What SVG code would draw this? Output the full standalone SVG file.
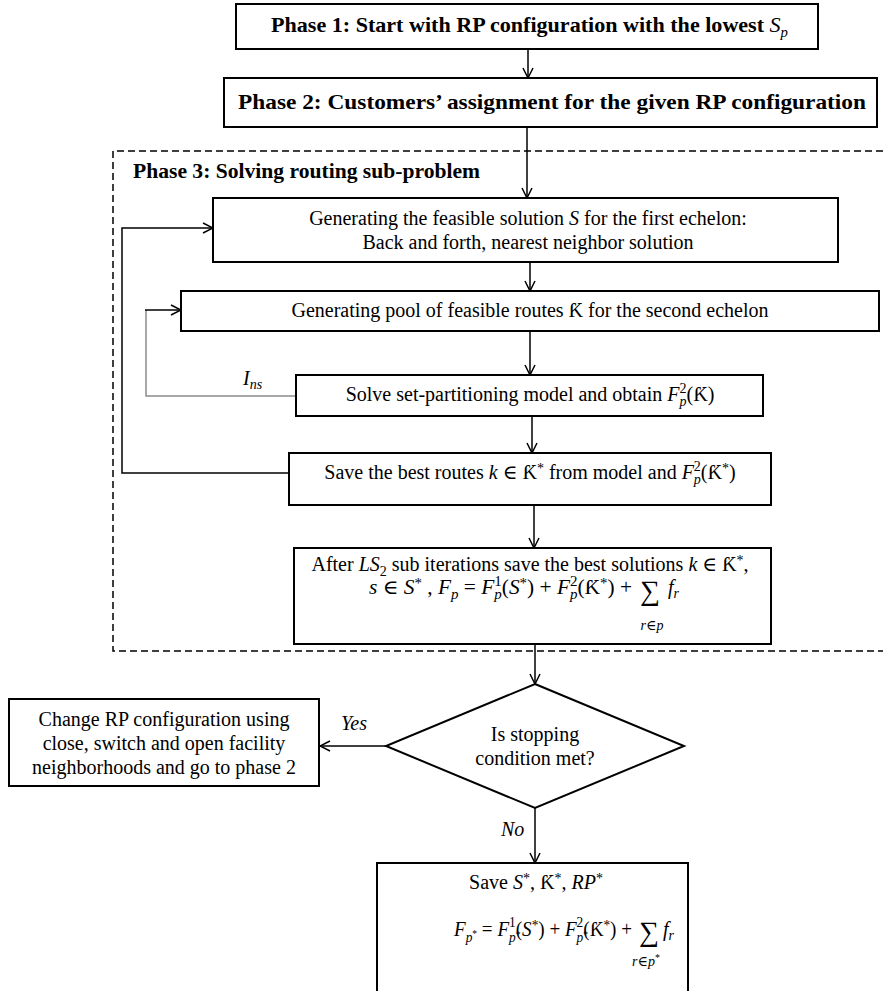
<svg xmlns="http://www.w3.org/2000/svg" width="883" height="991" viewBox="0 0 883 991">
<defs>
<style>
.box{fill:#fff;stroke:#000;stroke-width:2}
.t{font-family:"Liberation Serif","Times New Roman","DejaVu Serif",serif;font-size:20px;fill:#000}
.h{font-weight:bold;font-size:21px}
.i{font-style:italic}
.n{font-weight:normal}
.s{font-size:14px}
.x{font-size:10px}
.sig{font-size:28px}
.m{text-anchor:middle}
.c{fill:none;stroke:#000;stroke-width:1.5}
.g{fill:none;stroke:#8c8c8c;stroke-width:1.5}
.d{fill:none;stroke:#000;stroke-width:1.5;stroke-dasharray:7 4}
</style>
<marker id="ah" viewBox="0 0 12 12" refX="11" refY="6" markerWidth="12" markerHeight="12" markerUnits="userSpaceOnUse" orient="auto"><path d="M1,1 L11,6 L1,11" fill="none" stroke="#000" stroke-width="1.5"/></marker>
</defs>
<rect width="883" height="991" fill="#fff"/>
<g id="phase3-frame">
<path class="d" d="M883,151 H113 V651 H883"/>
<text class="t h" x="133" y="178" textLength="347" lengthAdjust="spacingAndGlyphs">Phase 3: Solving routing sub-problem</text>
</g>
<g id="connectors">
<path class="c" d="M528,49 V78" marker-end="url(#ah)"/>
<path class="c" d="M527,127 V198" marker-end="url(#ah)"/>
<path class="c" d="M530,262 V291" marker-end="url(#ah)"/>
<path class="c" d="M530,331 V375" marker-end="url(#ah)"/>
<path class="c" d="M532,416 V453" marker-end="url(#ah)"/>
<path class="c" d="M534,505 V548" marker-end="url(#ah)"/>
<path class="c" d="M535,644 V684" marker-end="url(#ah)"/>
<path class="c" d="M386,746 H320" marker-end="url(#ah)"/>
<path class="c" d="M535,808 V863" marker-end="url(#ah)"/>
<path class="c" d="M289,473 H122 V228 H213" marker-end="url(#ah)"/>
<path class="g" d="M296,396 H146 V310"/>
<path class="c" d="M145,310 H181" marker-end="url(#ah)"/>
<text class="t i" x="243" y="385">I<tspan class="s" dy="4">ns</tspan></text>
<text class="t i" x="341" y="730">Yes</text>
<text class="t i" x="501" y="836">No</text>
</g>
<g id="phase1">
<rect class="box" x="236" y="4" width="582" height="45"/>
<text class="t h" x="271" y="32" textLength="517" lengthAdjust="spacingAndGlyphs">Phase 1: Start with RP configuration with the lowest <tspan class="i n">S</tspan><tspan class="i n s" dy="5">p</tspan></text>
</g>
<g id="phase2">
<rect class="box" x="224" y="78" width="653" height="49"/>
<text class="t h" x="238" y="109" textLength="628" lengthAdjust="spacingAndGlyphs">Phase 2: Customers’ assignment for the given RP configuration</text>
</g>
<g id="first-echelon">
<rect class="box" x="213" y="198" width="625" height="64"/>
<text class="t m" x="528" y="225">Generating the feasible solution <tspan class="i">S</tspan> for the first echelon:</text>
<text class="t m" x="528" y="249">Back and forth, nearest neighbor solution</text>
</g>
<g id="route-pool">
<rect class="box" x="181" y="291" width="698" height="40"/>
<text class="t m" x="530" y="317">Generating pool of feasible routes Ƙ for the second echelon</text>
</g>
<g id="set-partitioning">
<rect class="box" x="296" y="375" width="467" height="41"/>
<text class="t m" x="530" y="401">Solve set-partitioning model and obtain <tspan class="i">F</tspan><tspan class="i s" dy="5">p</tspan><tspan class="s" dx="-7" dy="-13">2</tspan><tspan dy="8">(Ƙ)</tspan></text>
</g>
<g id="save-routes">
<rect class="box" x="289" y="453" width="482" height="52"/>
<text class="t m" x="530" y="479">Save the best routes <tspan class="i">k</tspan> ∈ Ƙ<tspan class="s" dy="-6">*</tspan><tspan dy="6"> from model and </tspan><tspan class="i">F</tspan><tspan class="i s" dy="5">p</tspan><tspan class="s" dx="-7" dy="-13">2</tspan><tspan dy="8">(Ƙ</tspan><tspan class="s" dy="-6">*</tspan><tspan dy="6">)</tspan></text>
</g>
<g id="after-ls2">
<rect class="box" x="294" y="548" width="477" height="96"/>
<text class="t m" x="530" y="571">After <tspan class="i">LS</tspan><tspan class="s" dy="5">2</tspan><tspan dy="-5"> sub iterations save the best solutions </tspan><tspan class="i">k</tspan> ∈ Ƙ<tspan class="s" dy="-6">*</tspan><tspan dy="6">,</tspan></text>
<text class="t" x="369" y="594" textLength="263" lengthAdjust="spacingAndGlyphs"><tspan class="i">s</tspan> ∈ <tspan class="i">S</tspan><tspan class="s" dy="-6">*</tspan><tspan dy="6"> , </tspan><tspan class="i">F</tspan><tspan class="i s" dy="5">p</tspan><tspan dy="-5"> = </tspan><tspan class="i">F</tspan><tspan class="i s" dy="5">p</tspan><tspan class="s" dx="-7" dy="-13">1</tspan><tspan dy="8">(</tspan><tspan class="i">S</tspan><tspan class="s" dy="-6">*</tspan><tspan dy="6">) + </tspan><tspan class="i">F</tspan><tspan class="i s" dy="5">p</tspan><tspan class="s" dx="-7" dy="-13">2</tspan><tspan dy="8">(Ƙ</tspan><tspan class="s" dy="-6">*</tspan><tspan dy="6">) +</tspan></text>
<text class="t sig m" x="650" y="600">∑</text>
<text class="t i" x="668" y="594">f<tspan class="s" dy="4">r</tspan></text>
<text class="t s m" x="652" y="630"><tspan class="i">r</tspan>∈<tspan class="i">p</tspan></text>
</g>
<g id="stop-decision">
<path class="box" d="M535,684 L684,746 L535,808 L386,746 Z"/>
<text class="t m" x="535" y="741">Is stopping</text>
<text class="t m" x="535" y="765">condition met?</text>
</g>
<g id="change-rp">
<rect class="box" x="9" y="699" width="310" height="87"/>
<text class="t m" x="164" y="726">Change RP configuration using</text>
<text class="t m" x="164" y="750">close, switch and open facility</text>
<text class="t m" x="164" y="774">neighborhoods and go to phase 2</text>
</g>
<g id="final-save">
<rect class="box" x="377" y="863" width="311" height="140"/>
<text class="t m" x="536" y="889">Save <tspan class="i">S</tspan><tspan class="s" dy="-6">*</tspan><tspan dy="6">, Ƙ</tspan><tspan class="s" dy="-6">*</tspan><tspan dy="6">, </tspan><tspan class="i">RP</tspan><tspan class="s" dy="-6">*</tspan></text>
<text class="t" x="454" y="936" textLength="178" lengthAdjust="spacingAndGlyphs"><tspan class="i">F</tspan><tspan class="i s" dy="6">p</tspan><tspan class="x" dy="-5">*</tspan><tspan dy="-1"> = </tspan><tspan class="i">F</tspan><tspan class="i s" dy="6">p</tspan><tspan class="x" dy="-4">*</tspan><tspan class="s" dx="-12" dy="-11">1</tspan><tspan dy="9">(</tspan><tspan class="i">S</tspan><tspan class="s" dy="-6">*</tspan><tspan dy="6">) + </tspan><tspan class="i">F</tspan><tspan class="i s" dy="6">p</tspan><tspan class="x" dy="-4">*</tspan><tspan class="s" dx="-12" dy="-11">2</tspan><tspan dy="9">(Ƙ</tspan><tspan class="s" dy="-6">*</tspan><tspan dy="6">) +</tspan></text>
<text class="t sig m" x="649" y="941">∑</text>
<text class="t i" x="663" y="936">f<tspan class="s" dy="4">r</tspan></text>
<text class="t s m" x="646" y="966"><tspan class="i">r</tspan>∈<tspan class="i">p</tspan><tspan class="x" dy="-5">*</tspan></text>
</g>
</svg>
